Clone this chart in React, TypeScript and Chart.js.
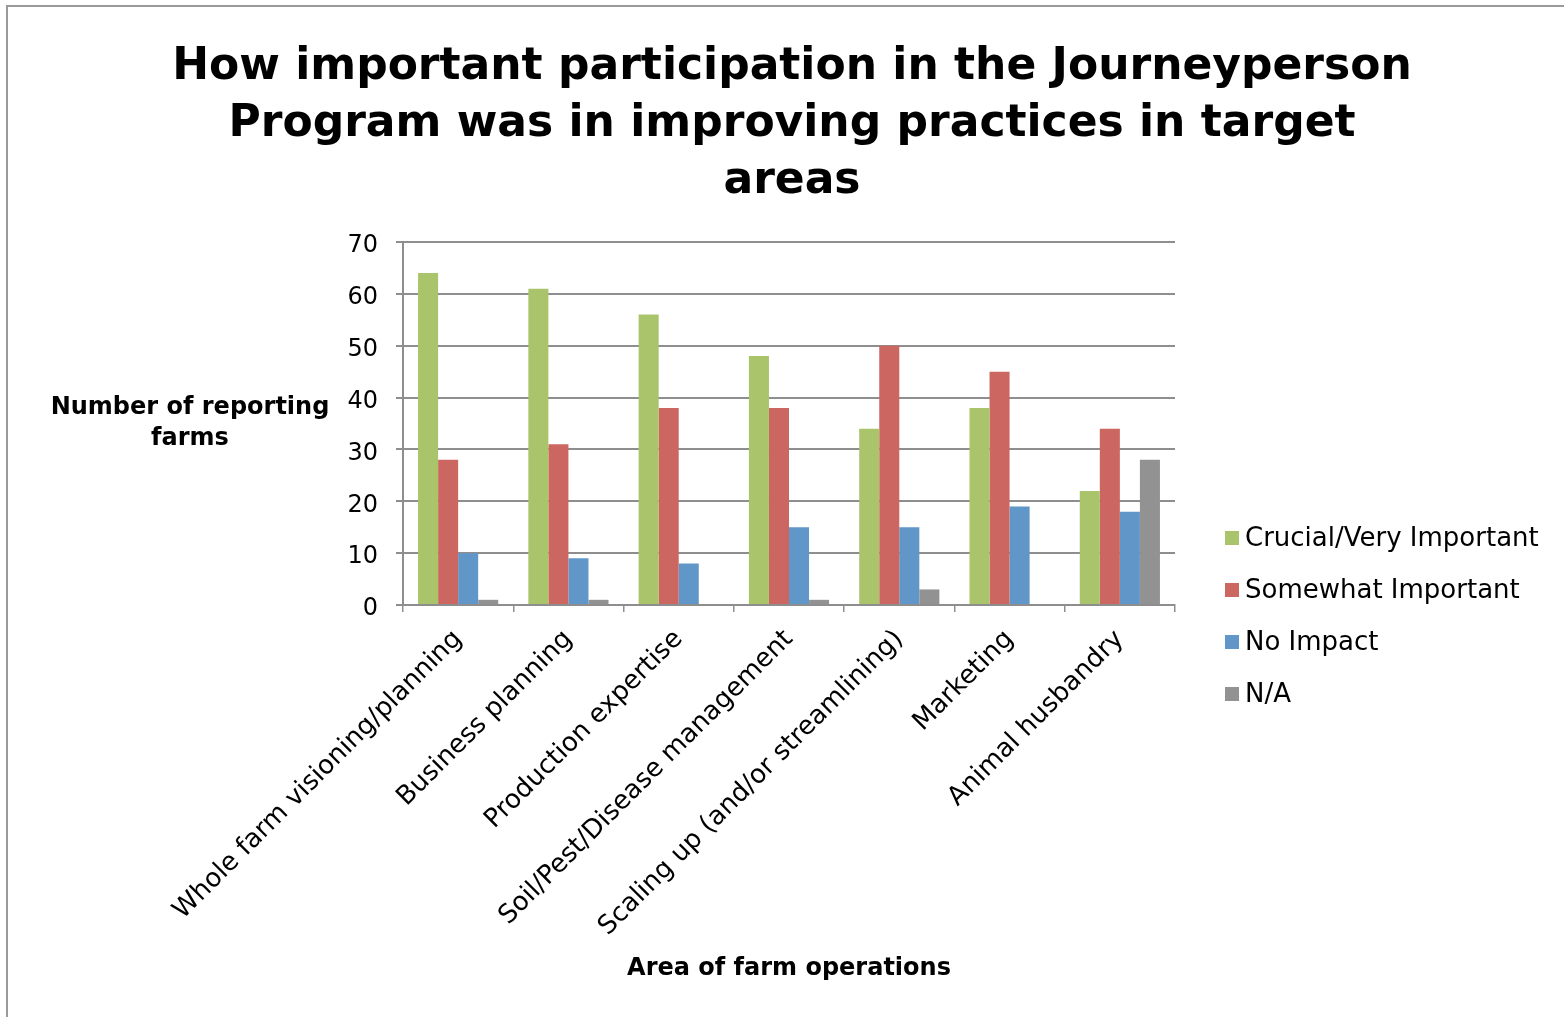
import React, { useEffect, useRef } from "react";
import { Chart, registerables } from "chart.js";

Chart.register(...registerables);

const titleLines = [
  "How important participation in the Journeyperson",
  "Program was in improving practices in target",
  "areas",
];
const categories = [
  "Whole farm visioning/planning",
  "Business planning",
  "Production expertise",
  "Soil/Pest/Disease management",
  "Scaling up (and/or streamlining)",
  "Marketing",
  "Animal husbandry",
];
const seriesNames = ["Crucial/Very Important", "Somewhat Important", "No Impact", "N/A"];
const crucial = [64, 61, 56, 48, 34, 38, 22];
const somewhat = [28, 31, 38, 38, 50, 45, 34];
const noImpact = [10, 9, 8, 15, 15, 19, 18];
const notApplicable = [1, 1, 0, 1, 3, 0, 28];
const seriesColors = ["#aac46b", "#cc6660", "#6196c9", "#929292"];
const yTicks = [0, 10, 20, 30, 40, 50, 60, 70];
const yTitleLines = ["Number of reporting", "farms"];
const xTitle = "Area of farm operations";

const FONT = "'DejaVu Sans', sans-serif";

const decorPlugin = {
  id: "decor",
  afterDraw(chart: any) {
    const ctx = chart.ctx;
    const area = chart.chartArea;
    ctx.save();
    // frame
    ctx.strokeStyle = "#9a9a9a";
    ctx.lineWidth = 2;
    ctx.strokeRect(7, 6, 3000, 3000);
    // title
    ctx.fillStyle = "#000";
    ctx.font = `bold 44px ${FONT}`;
    ctx.textAlign = "center";
    ctx.textBaseline = "alphabetic";
    const cx = (area.left + area.right) / 2 + 3;
    titleLines.forEach((l, i) => {
      ctx.fillText(l, cx, 79 + i * 57);
    });
    // y title
    ctx.font = `bold 24px ${FONT}`;
    ctx.textBaseline = "middle";
    const cy = (area.top + area.bottom) / 2;
    yTitleLines.forEach((l, i) => {
      ctx.fillText(l, 190, cy + (i - (yTitleLines.length - 1) / 2) * 31);
    });
    // legend
    ctx.font = `26px ${FONT}`;
    ctx.textAlign = "left";
    chart.data.datasets.forEach((ds: any, i: number) => {
      const y = 538 + i * 52;
      ctx.fillStyle = ds.backgroundColor;
      ctx.fillRect(1225, y - 7, 14, 14);
      ctx.fillStyle = "#000";
      ctx.fillText(ds.label, 1245, y + 1);
    });
    ctx.restore();
  },
};

export default function App() {
  const ref = useRef<HTMLCanvasElement | null>(null);
  useEffect(() => {
    if (!ref.current) return;
    const values = [crucial, somewhat, noImpact, notApplicable];
    const chart = new Chart(ref.current, {
      type: "bar",
      data: {
        labels: categories,
        datasets: seriesNames.map((name, i) => ({
          label: name,
          data: values[i],
          backgroundColor: seriesColors[i],
          borderWidth: 0,
          categoryPercentage: 0.727,
          barPercentage: 1,
        })),
      },
      options: {
        animation: false,
        responsive: false,
        maintainAspectRatio: false,
        layout: { padding: { left: 0, right: 389, top: 242, bottom: 30 } },
        plugins: {
          legend: { display: false },
          tooltip: { enabled: false },
          title: { display: false },
        },
        scales: {
          x: {
            afterFit(scale: any) {
              scale.height = 382;
            },
            grid: {
              offset: true,
              drawOnChartArea: false,
              drawTicks: true,
              tickLength: 7,
              color: "#8e8e8e",
              lineWidth: 1.5,
            },
            border: { color: "#8e8e8e", width: 2 },
            ticks: {
              autoSkip: false,
              maxRotation: 45,
              minRotation: 45,
              padding: 12,
              color: "#000",
              font: { family: FONT, size: 26 },
            },
            title: {
              display: true,
              text: xTitle,
              color: "#000",
              font: { family: FONT, size: 24, weight: "bold" },
            },
          },
          y: {
            min: 0,
            max: 70,
            afterFit(scale: any) {
              scale.width = 403;
            },
            afterBuildTicks(scale: any) {
              scale.ticks = yTicks.map((v) => ({ value: v }));
            },
            grid: {
              color: "#8e8e8e",
              lineWidth: 2,
              drawTicks: true,
              tickLength: 7,
            },
            border: { color: "#8e8e8e", width: 2 },
            ticks: {
              padding: 18,
              labelOffset: 4,
              color: "#000",
              font: { family: FONT, size: 24 },
            },
          },
        },
      },
      plugins: [decorPlugin],
    });
    return () => chart.destroy();
  }, []);
  return (
    <div style={{ position: "fixed", left: 0, top: 0, width: 1564, height: 1017, background: "#fff" }}>
      <canvas ref={ref} width={1564} height={1017} style={{ width: 1564, height: 1017 }} />
    </div>
  );
}
